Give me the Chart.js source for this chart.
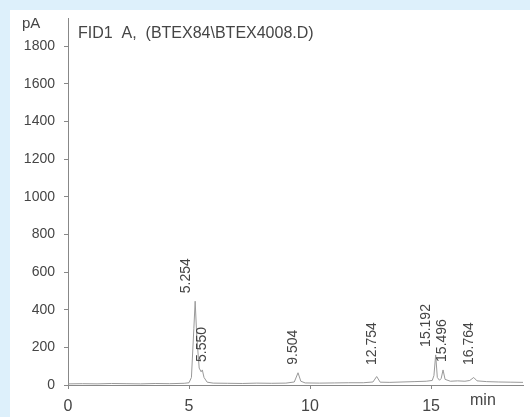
<!DOCTYPE html>
<html>
<head>
<meta charset="utf-8">
<script src="https://cdn.jsdelivr.net/npm/chart.js@4"></script>
<style>
  html, body { margin: 0; padding: 0; background: #ddf0fb; }
  #wrap { width: 530px; height: 417px; }
</style>
</head>
<body>
<div id="wrap"><canvas id="fidChart" width="530" height="417"></canvas></div>
<script>
// chromatogram trace (min, pA)
const times = [0, 0.6, 1.2, 1.8, 2.4, 3.0, 3.6, 4.2, 4.8, 5.0, 5.1, 5.2, 5.254, 5.32, 5.42, 5.5, 5.55, 5.62, 5.75, 6.0,
    6.6, 7.2, 7.8, 8.4, 9.0, 9.35, 9.504, 9.62, 9.8, 10.4, 11.0, 11.6, 12.2, 12.6, 12.754, 12.9, 13.3, 13.8, 14.3, 14.8,
    15.05, 15.12, 15.192, 15.26, 15.35, 15.42, 15.496, 15.58, 15.8, 16.1, 16.4, 16.6, 16.764, 16.9, 17.3, 17.8, 18.3, 18.8];
const signal = [6, 7, 6, 8, 7, 6, 8, 7, 9, 12, 40, 300, 445, 260, 90, 70, 80, 40, 15, 10,
    9, 8, 10, 9, 10, 16, 65, 20, 11, 10, 11, 12, 12, 16, 45, 15, 14, 16, 18, 20,
    24, 50, 160, 40, 25, 35, 80, 30, 20, 22, 20, 24, 40, 22, 18, 16, 15, 14];

// integrated peaks
const peakTimes = [5.254, 5.550, 9.504, 12.754, 15.192, 15.496, 16.764];
const peakHeights = [445, 80, 65, 45, 160, 80, 40];

const yTicks = [0, 200, 400, 600, 800, 1000, 1200, 1400, 1600, 1800];
const xTicks = [0, 5, 10, 15];

const ink = '#454545';
const fam = '"Liberation Sans", Arial, sans-serif';

const backdrop = {
    id: 'backdrop',
    beforeDraw(chart) {
        const c = chart.ctx;
        c.save();
        c.fillStyle = '#ddf0fb';
        c.fillRect(0, 0, chart.width, chart.height);
        c.fillStyle = '#ffffff';
        c.fillRect(10, 10, chart.width - 10, chart.height - 10);
        c.restore();
    }
};

const annotations = {
    id: 'annotations',
    afterDraw(chart) {
        const c = chart.ctx;
        const xs = chart.scales.x, ys = chart.scales.y;
        c.save();
        c.fillStyle = ink;
        c.textBaseline = 'alphabetic';
        c.font = '15px ' + fam;
        c.fillText('pA', 22, 28);
        c.font = '16px ' + fam;
        c.fillText('FID1  A,  (BTEX84\\BTEX4008.D)', 78, 38);
        c.fillText('min', 470, 405);

        // peak retention time labels, rotated
        let centers = peakTimes.map(t => xs.getPixelForValue(t) - 5);
        for (let i = 1; i < centers.length; i++) {
            if (centers[i] - centers[i - 1] < 16) {
                const mid = (centers[i] + centers[i - 1]) / 2;
                centers[i - 1] = mid - 8;
                centers[i] = mid + 8;
            }
        }
        const base = ys.getPixelForValue(0);
        c.font = '14px ' + fam;
        c.textAlign = 'left';
        c.textBaseline = 'middle';
        peakTimes.forEach((t, i) => {
            const apex = ys.getPixelForValue(peakHeights[i]);
            const y0 = Math.min(apex - 8, base - 20);
            c.save();
            c.translate(centers[i], y0);
            c.rotate(-Math.PI / 2);
            c.fillText(t.toFixed(3), 0, 0);
            c.restore();
        });
        c.restore();
    }
};

new Chart(document.getElementById('fidChart').getContext('2d'), {
    type: 'line',
    data: {
        datasets: [{
            data: times.map((t, i) => ({ x: t, y: signal[i] })),
            borderColor: '#9a9a9a',
            borderWidth: 1,
            pointRadius: 0,
            tension: 0,
            fill: false
        }]
    },
    options: {
        responsive: false,
        animation: false,
        layout: { padding: { top: 18, right: 7 } },
        plugins: { legend: { display: false }, tooltip: { enabled: false } },
        scales: {
            x: {
                type: 'linear',
                min: 0,
                max: 18.8,
                afterBuildTicks: s => { s.ticks = xTicks.map(v => ({ value: v })); },
                afterFit: s => { s.height = 32; },
                border: { color: '#888', width: 1 },
                grid: { drawOnChartArea: false, tickLength: 4, color: '#888' },
                ticks: { color: ink, padding: 8, maxRotation: 0, font: { size: 16, family: fam },
                    callback: v => String(v) }
            },
            y: {
                min: 0,
                max: 1950,
                afterBuildTicks: s => { s.ticks = yTicks.map(v => ({ value: v })); },
                afterFit: s => { s.width = 68; },
                border: { color: '#888', width: 1 },
                grid: { drawOnChartArea: false, tickLength: 4, color: '#888' },
                ticks: { color: ink, padding: 9, font: { size: 14, family: fam },
                    callback: v => String(v) }
            }
        }
    },
    plugins: [backdrop, annotations]
});
</script>
</body>
</html>
